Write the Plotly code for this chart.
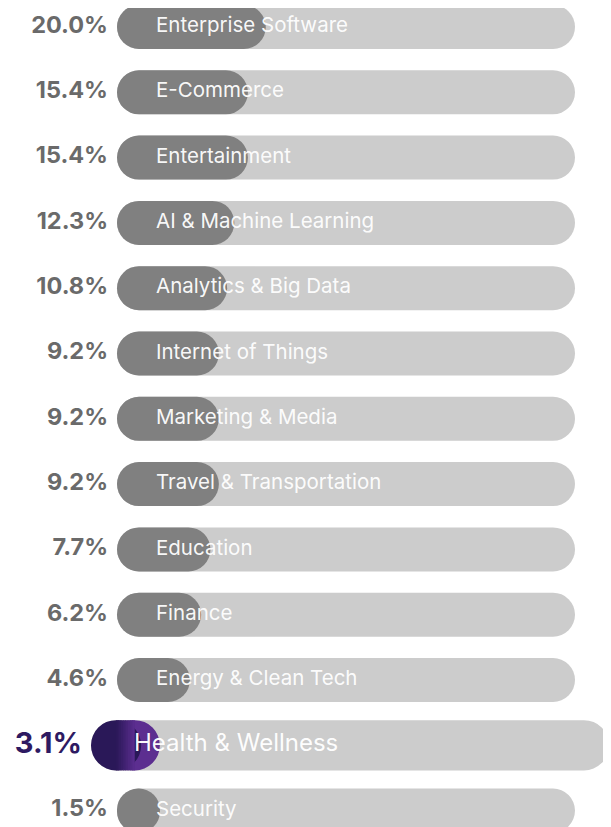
import numpy as np
import plotly.graph_objects as go

categories = ["Enterprise Software", "E-Commerce", "Entertainment", "AI & Machine Learning",
              "Analytics & Big Data", "Internet of Things", "Marketing & Media",
              "Travel & Transportation", "Education", "Finance", "Energy & Clean Tech",
              "Health & Wellness", "Security"]
shares = [20.0, 15.4, 15.4, 12.3, 10.8, 9.2, 9.2, 9.2, 7.7, 6.2, 4.6, 3.1, 1.5]
highlight = "Health & Wellness"

# x axis is in page-pixel units, rows are 0..12 on the y axis
PX_PER_ROW = 65.3
ROW_H = 44
HI_SCALE = 1.14
PAGE_OFF = 8  # default body margin of the html page


def bar(fig, i, x0, x1, h, color, radius):
    fig.add_trace(go.Bar(y=[i], x=[x1 - x0], base=[x0], orientation="h", width=h / PX_PER_ROW,
                         marker=dict(color=color, cornerradius=radius, line_width=0),
                         hoverinfo="skip", showlegend=False))


fig = go.Figure()

for i, (cat, v) in enumerate(zip(categories, shares)):
    hi = cat == highlight
    s = HI_SCALE if hi else 1.0
    h = ROW_H * s
    r = h / 2
    left = 91 if hi else 117
    track_end = 609 if hi else 575
    end = left + s * (3 + 32.6 * np.sqrt(v))

    bar(fig, i, left, track_end, h, "#cccccc", r)
    if hi:
        c0 = np.array([0x2a, 0x18, 0x58])
        c1 = np.array([0x5c, 0x2e, 0x90])
        bar(fig, i, end - 2 * r, end, h, "rgb(%d,%d,%d)" % tuple(c1), r)
        bar(fig, i, left, left + 2 * r, h, "rgb(%d,%d,%d)" % tuple(c0), r)
        n = 8
        edges = np.linspace(left + r, end - r, n + 1)
        for k in range(n):
            t = (k + 0.5) / n
            c = (c0 + (c1 - c0) * t).astype(int)
            bar(fig, i, edges[k], edges[k + 1] + (0.6 if k < n - 1 else 0), h,
                "rgb(%d,%d,%d)" % tuple(c), 0)
    else:
        bar(fig, i, left, end, h, "#808080", r)

pct_text = ["%.1f%%" % v for v in shares]
normal = [i for i, c in enumerate(categories) if c != highlight]
hi_i = categories.index(highlight)

fig.add_trace(go.Scatter(x=[108] * len(normal), y=normal, mode="text",
                         text=[pct_text[i] for i in normal], textposition="middle left",
                         textfont=dict(family="Inter", size=23.5, color="#6a6a6a", weight="bold"),
                         hoverinfo="skip", showlegend=False))
fig.add_trace(go.Scatter(x=[156] * len(normal), y=normal, mode="text",
                         text=[categories[i] for i in normal], textposition="middle right",
                         textfont=dict(family="Inter", size=20.5, color="rgba(255,255,255,0.96)"),
                         hoverinfo="skip", showlegend=False))
fig.add_trace(go.Scatter(x=[82], y=[hi_i], mode="text", text=[pct_text[hi_i]],
                         textposition="middle left",
                         textfont=dict(family="Inter", size=29, color="#2e1a62", weight="bold"),
                         hoverinfo="skip", showlegend=False))
fig.add_trace(go.Scatter(x=[134], y=[hi_i], mode="text", text=[categories[hi_i]],
                         textposition="middle right",
                         textfont=dict(family="Inter", size=24, color="rgba(255,255,255,0.97)"),
                         hoverinfo="skip", showlegend=False))

plot_h = 827 - PAGE_OFF
top = (PAGE_OFF - 27) / PX_PER_ROW
bottom = 12 + (PAGE_OFF + plot_h - 810.6) / PX_PER_ROW
fig.update_layout(
    width=611 - PAGE_OFF, height=plot_h, margin=dict(l=0, r=0, t=0, b=0),
    barmode="overlay", plot_bgcolor="white", paper_bgcolor="white",
    xaxis=dict(range=[PAGE_OFF, 611], visible=False, fixedrange=True),
    yaxis=dict(range=[bottom, top], visible=False, fixedrange=True),
)
fig.write_html("out.html")
